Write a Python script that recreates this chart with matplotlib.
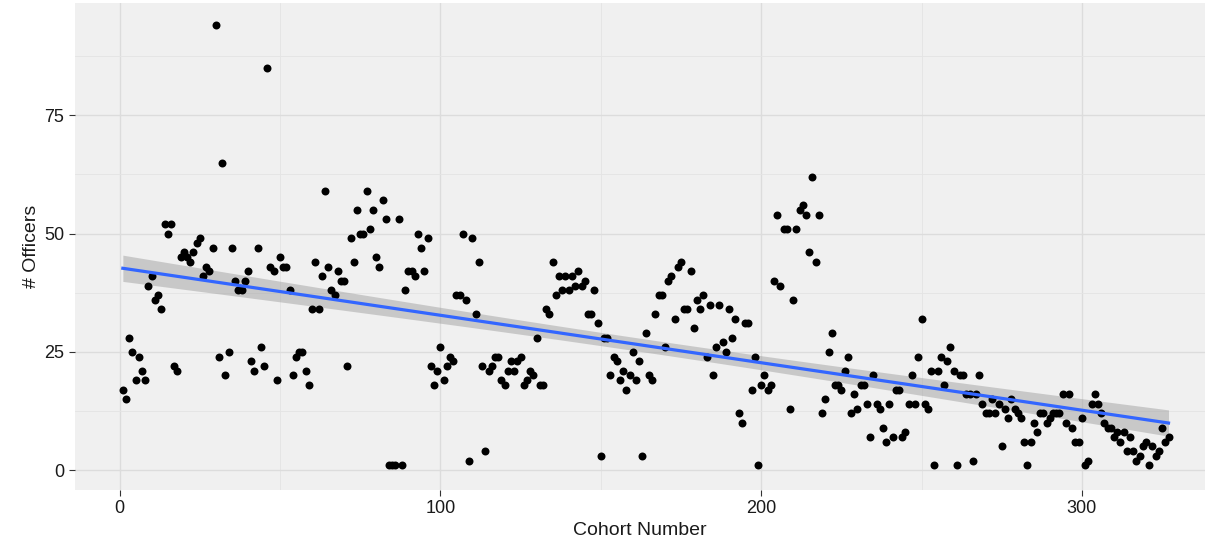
import matplotlib.pyplot as plt
import numpy as np

plt.rcParams['font.family'] = ['Liberation Sans', 'DejaVu Sans']

# Officers per cohort
cohort = np.arange(1, 328)
officers = [
    17, 15, 28, 25, 19, 24, 21, 19, 39, 41,
    36, 37, 34, 52, 50, 52, 22, 21, 45, 46,
    45, 44, 46, 48, 49, 41, 43, 42, 47, 94,
    24, 65, 20, 25, 47, 40, 38, 38, 40, 42,
    23, 21, 47, 26, 22, 85, 43, 42, 19, 45,
    43, 43, 38, 20, 24, 25, 25, 21, 18, 34,
    44, 34, 41, 59, 43, 38, 37, 42, 40, 40,
    22, 49, 44, 55, 50, 50, 59, 51, 55, 45,
    43, 57, 53, 1, 1, 1, 53, 1, 38, 42,
    42, 41, 50, 47, 42, 49, 22, 18, 21, 26,
    19, 22, 24, 23, 37, 37, 50, 36, 2, 49,
    33, 44, 22, 4, 21, 22, 24, 24, 19, 18,
    21, 23, 21, 23, 24, 18, 19, 21, 20, 28,
    18, 18, 34, 33, 44, 37, 41, 38, 41, 38,
    41, 39, 42, 39, 40, 33, 33, 38, 31, 3,
    28, 28, 20, 24, 23, 19, 21, 17, 20, 25,
    19, 23, 3, 29, 20, 19, 33, 37, 37, 26,
    40, 41, 32, 43, 44, 34, 34, 42, 30, 36,
    34, 37, 24, 35, 20, 26, 35, 27, 25, 34,
    28, 32, 12, 10, 31, 31, 17, 24, 1, 18,
    20, 17, 18, 40, 54, 39, 51, 51, 13, 36,
    51, 55, 56, 54, 46, 62, 44, 54, 12, 15,
    25, 29, 18, 18, 17, 21, 24, 12, 16, 13,
    18, 18, 14, 7, 20, 14, 13, 9, 6, 14,
    7, 17, 17, 7, 8, 14, 20, 14, 24, 32,
    14, 13, 21, 1, 21, 24, 18, 23, 26, 21,
    1, 20, 20, 16, 16, 2, 16, 20, 14, 12,
    12, 15, 12, 14, 5, 13, 11, 15, 13, 12,
    11, 6, 1, 6, 10, 8, 12, 12, 10, 11,
    12, 12, 12, 16, 10, 16, 9, 6, 6, 11,
    1, 2, 14, 16, 14, 12, 10, 9, 9, 7,
    8, 6, 8, 4, 7, 4, 2, 3, 5, 6,
    1, 5, 3, 4, 9, 6, 7,
]
officers = np.array(officers, dtype=float)

# Linear fit with 95% confidence band (like geom_smooth(method="lm"))
n = len(cohort)
slope, intercept = np.polyfit(cohort, officers, 1)
xs = np.linspace(cohort.min(), cohort.max(), 200)
fit = intercept + slope * xs
resid = officers - (intercept + slope * cohort)
s = np.sqrt(np.sum(resid ** 2) / (n - 2))
xbar = cohort.mean()
se = s * np.sqrt(1 / n + (xs - xbar) ** 2 / np.sum((cohort - xbar) ** 2))
t = 1.967

fig = plt.figure(figsize=(12.25, 5.54), dpi=100)
ax = fig.add_axes([0.061, 0.1155, 0.923, 0.879])
ax.set_facecolor('#F0F0F0')

ax.fill_between(xs, fit - t * se, fit + t * se, color='#999999', alpha=0.45, linewidth=0, zorder=2)
ax.scatter(cohort, officers, s=33, color='black', linewidths=0, zorder=3)
ax.plot(xs, fit, color='#3366FF', linewidth=2.3, zorder=4)

ax.set_xlim(-14, 338.5)
ax.set_ylim(-4.2, 98.7)
ax.set_xticks([0, 100, 200, 300])
ax.set_yticks([0, 25, 50, 75])
ax.set_xticks([50, 150, 250], minor=True)
ax.set_yticks([12.5, 37.5, 62.5, 87.5], minor=True)
ax.grid(which='major', color='#DCDCDC', linewidth=1.0, zorder=0)
ax.grid(which='minor', color='#E4E4E4', linewidth=0.6, zorder=0)
ax.set_axisbelow(True)
for sp in ax.spines.values():
    sp.set_visible(False)
ax.tick_params(which='major', length=4, color='#333333', labelsize=13, labelcolor='#1A1A1A')
ax.tick_params(which='minor', length=0)

ax.set_xlabel('Cohort Number', fontsize=14, color='#1A1A1A', labelpad=3)
ax.set_ylabel('# Officers', fontsize=14, color='#1A1A1A', labelpad=3)

fig.savefig('out.png', dpi=100)
